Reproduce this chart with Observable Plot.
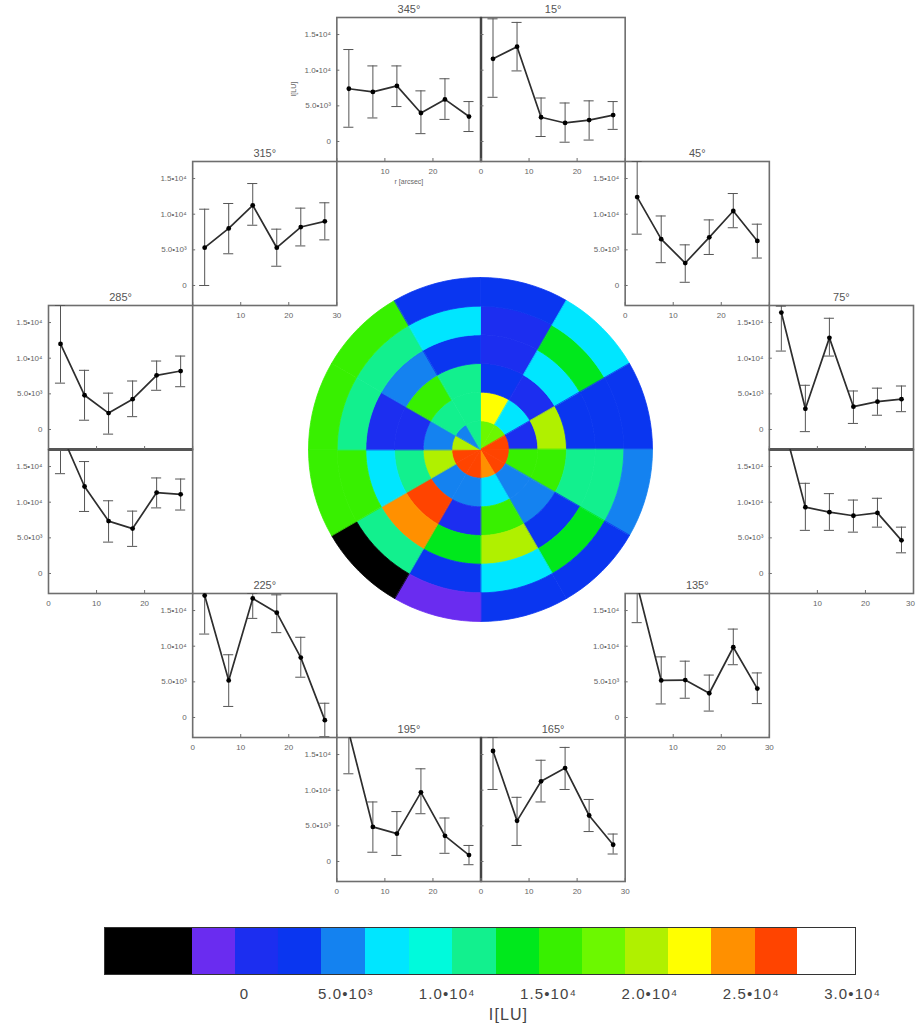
<!DOCTYPE html>
<html><head><meta charset="utf-8">
<script src="https://cdn.jsdelivr.net/npm/d3@7"></script>
<script src="https://cdn.jsdelivr.net/npm/@observablehq/plot@0.6"></script>
<style>
html,body{margin:0;padding:0;background:#fff;overflow:hidden}
#page{position:relative;width:916px;height:1030px;font-family:"Liberation Sans",sans-serif}
#page svg{position:absolute;display:block;background:transparent}
#page svg.barplot text{letter-spacing:1.1px}
</style></head><body><div id="page"></div>
<script>
// Panel layout
const angles = [345,15,315,45,285,75,255,105,225,135,195,165];
const cols   = [2,3,1,4,0,5,0,5,1,4,2,3];
const rows   = [0,0,1,1,2,2,3,3,4,4,5,5];
const radii  = [2.5,7.5,12.5,17.5,22.5,27.5];
const untitled = [255,105];
// Radial profiles, in units of 10^3 LU
const means = {
  345:[7.4,6.95,7.8,4.0,5.9,3.5], 15:[11.6,13.3,3.4,2.6,3.0,3.7],
  315:[5.3,8.0,11.25,5.3,8.2,9.0], 45:[12.4,6.5,3.15,6.75,10.45,6.25],
  285:[12.0,4.8,2.3,4.25,7.6,8.2], 75:[16.4,2.9,12.85,3.2,3.9,4.25],
  255:[19.9,12.2,7.35,6.3,11.35,11.1], 105:[22.1,9.3,8.6,8.1,8.5,4.65],
  225:[17.1,5.2,16.7,14.7,8.4,-0.37], 135:[18.55,5.2,5.25,3.4,9.85,4.05],
  195:[18.1,4.85,3.9,9.7,3.6,0.9], 165:[15.5,5.7,11.25,13.1,6.45,2.35]
};
const lows = {
  345:[2.0,3.3,4.9,1.1,3.1,1.4], 15:[6.2,9.9,0.7,-0.1,0.2,1.7],
  315:[0,4.45,8.45,2.7,5.55,6.4], 45:[7.2,3.2,0.45,4.35,8.1,3.85],
  285:[6.5,1.3,-0.65,1.8,5.5,6.0], 75:[11.0,-0.3,10.3,0.85,2.0,2.5],
  255:[14.0,8.7,4.4,3.8,9.2,8.9], 105:[18,6.05,6.05,5.8,6.5,2.9],
  225:[11.7,1.55,13.9,11.9,5.65,-2.7], 135:[13.3,1.9,2.7,0.9,7.4,1.95],
  195:[12.3,1.3,0.85,6.7,1.15,-0.45], 165:[10.1,2.25,8.35,10.1,4.2,1.05]
};
const highs = {
  345:[12.9,10.6,10.6,7.1,8.8,5.6], 15:[17.2,16.7,6.1,5.4,5.7,5.6],
  315:[10.7,11.5,14.3,7.9,10.85,11.6], 45:[17.4,9.75,5.7,9.2,12.9,8.6],
  285:[17.4,8.3,5.1,6.8,9.6,10.3], 75:[17.3,6.2,15.6,5.4,5.8,6.1],
  255:[25,15.7,10.2,8.75,13.4,13.25], 105:[26,12.65,11.2,10.3,10.55,6.5],
  225:[25,8.8,17.4,17.2,11.25,2.0], 135:[25,8.5,7.9,5.95,12.4,6.25],
  195:[24,8.35,7.0,13.0,6.1,2.25], 165:[17.4,9.0,14.2,16.0,8.7,3.85]
};
const xTickLabels = {
  345:[10,20], 15:[0,10,20], 315:[10,20,30], 45:[0,10,20], 285:[], 75:[],
  255:[0,10,20], 105:[10,20], 225:[0,10,20], 135:[10,20,30], 195:[0,10,20], 165:[0,10,20,30]
};
const yTicks = [0,5000,10000,15000];
const yTickText = {0:"0",5000:"5.0•10³",10000:"1.0•10⁴",15000:"1.5•10⁴"};

// Colour bands of the colour bar: lower edges in LU and colours
const bandEdges = [-6907,-2565,-444,1677,3799,5969,8140,10261,12432,14553,16675,18796,20918,23039,25210,27282,30143];
const bandColors = ["#000000","#6a2cf0","#1c2ef0","#0a36f0","#1482f0","#00e6ff","#00fadc","#12f08e","#00e81c","#38f000","#6cf800","#b0f000","#ffff00","#ff9000","#ff4400","#ffffff"];
const barTicks = [0,5000,10000,15000,20000,25000,30000];
const barTickText = {0:"0",5000:"5.0•10³",10000:"1.0•10⁴",15000:"1.5•10⁴",20000:"2.0•10⁴",25000:"2.5•10⁴",30000:"3.0•10⁴"};

// Polar map: rows are sectors (centre angle), entries run from the inner to the outer ring, LU
const BLK=-4000,VIO=-1500,DBL=600,BLU=2700,MID=4900,CYA=7000,AQU=9200,TEA=11300,GRN=13500,GR2=15600,LIM=17700,YGR=19900,YEL=22000,ORA=24100,RED=26200;
const sectors = [15,45,75,105,135,165,195,225,255,285,315,345];
const disc = [
  [LIM,YEL,BLU,DBL,DBL,BLU],
  [LIM,CYA,DBL,CYA,GRN,CYA],
  [RED,DBL,YGR,BLU,BLU,BLU],
  [RED,GR2,GR2,TEA,TEA,MID],
  [RED,MID,MID,BLU,GRN,BLU],
  [ORA,CYA,GR2,YGR,CYA,BLU],
  [RED,MID,DBL,GRN,BLU,VIO],
  [RED,MID,RED,ORA,TEA,BLK],
  [RED,YGR,TEA,CYA,GR2,GR2],
  [YGR,MID,DBL,DBL,TEA,GR2],
  [MID,TEA,GR2,MID,TEA,GR2],
  [TEA,TEA,TEA,BLU,CYA,BLU]
];
const ringEdges = [0,5,10,15,20,25,30];

const frameInk = "#6e6e6e", labelInk = "#666";
const page = document.getElementById("page");

// ---------- profile panels ----------
const panelPos = angles.map((a,i)=>({angle:a,col:cols[i],row:rows[i]}));
const points = panelPos.flatMap(p => radii.map((r,i)=>({
  ...p, r, v:means[p.angle][i]*1000, lo:lows[p.angle][i]*1000, hi:highs[p.angle][i]*1000
})));
const xLabels = panelPos.flatMap(p => xTickLabels[p.angle].map(t=>({...p,t})));
const facet = {fx:"col",fy:"row"};
const capHalf = 1.05;
const main = Plot.plot({
  width:916, height:907, marginLeft:48, marginRight:3, marginTop:17, marginBottom:26,
  style:{background:"transparent",fontFamily:"'Liberation Sans',sans-serif"},
  fx:{domain:[0,1,2,3,4,5],padding:0,axis:null,round:false},
  fy:{domain:[0,1,2,3,4,5],padding:0,axis:null,round:false},
  x:{domain:[0,30]},
  y:{domain:[-2805,17390]},
  marks:[
    Plot.frame({stroke:frameInk,strokeWidth:1.6}),
    Plot.ruleY(panelPos.filter(p=>p.angle===285||p.angle===75),{...facet,y:()=>-2805,stroke:"#555",strokeWidth:3}),
    Plot.ruleX(panelPos.filter(p=>p.angle===345),{...facet,x:()=>30,stroke:"#444",strokeWidth:2.5}),
    Plot.ruleX(panelPos.filter(p=>p.angle===195),{...facet,x:()=>30,stroke:"#444",strokeWidth:2.5}),
    Plot.axisX({ticks:[0,10,20,30],tickSize:-3,text:null,label:null,facetAnchor:null,anchor:"bottom",stroke:frameInk}),
    Plot.axisY({ticks:yTicks,tickSize:-3,text:null,label:null,facetAnchor:null,anchor:"left",stroke:frameInk}),
    Plot.axisY({ticks:yTicks,tickSize:0,tickPadding:6,label:null,anchor:"left",tickFormat:d=>yTickText[d],fontSize:8,fill:labelInk}),
    Plot.text(xLabels,{...facet,x:"t",text:d=>String(d.t),frameAnchor:"bottom",lineAnchor:"middle",dy:10,fontSize:8,fill:labelInk}),
    Plot.text(panelPos.filter(p=>p.angle===105),{...facet,x:()=>30,text:()=>"30",frameAnchor:"bottom",lineAnchor:"middle",dy:10,dx:-3,fontSize:8,fill:labelInk}),
    Plot.text(panelPos.filter(p=>!untitled.includes(p.angle)),{...facet,text:d=>d.angle+"°",frameAnchor:"top",lineAnchor:"middle",dy:-8,fontSize:11,fill:"#555"}),
    Plot.text(panelPos.filter(p=>p.angle===345),{...facet,text:()=>"I[LU]",y:()=>6300,frameAnchor:"left",dx:-43,rotate:-90,fontSize:7,fill:labelInk}),
    Plot.text(panelPos.filter(p=>p.angle===345),{...facet,text:()=>"r [arcsec]",x:()=>15,frameAnchor:"bottom",lineAnchor:"middle",dy:20,fontSize:7,fill:labelInk}),
    Plot.ruleX(points,{...facet,x:"r",y1:"lo",y2:"hi",stroke:"#555",strokeWidth:1,clip:"frame"}),
    Plot.ruleY(points,{...facet,y:"lo",x1:d=>d.r-capHalf,x2:d=>d.r+capHalf,stroke:"#555",strokeWidth:1,clip:"frame"}),
    Plot.ruleY(points,{...facet,y:"hi",x1:d=>d.r-capHalf,x2:d=>d.r+capHalf,stroke:"#555",strokeWidth:1,clip:"frame"}),
    Plot.line(points,{...facet,x:"r",y:"v",z:"angle",stroke:"#2e2e2e",strokeWidth:1.7,clip:"frame"}),
    Plot.dot(points,{...facet,x:"r",y:"v",r:2.4,fill:"#000",clip:"frame"})
  ]
});
main.style.left="0px"; main.style.top="0px";
page.appendChild(main);

// ---------- polar map ----------
const colorScale = {type:"threshold",domain:bandEdges.slice(1,-1),range:bandColors};
const wedges = sectors.flatMap((a,s)=>disc[s].map((v,k)=>{
  const t0=a-15,t1=a+15,r0=ringEdges[k],r1=ringEdges[k+1];
  const pt=(r,t)=>[r*Math.sin(t*Math.PI/180),r*Math.cos(t*Math.PI/180)];
  const outer=d3.range(t0,t1+0.01,3).map(t=>pt(r1,t));
  const inner=d3.range(t1,t0-0.01,-3).map(t=>pt(r0,t));
  const ring=[...outer,...inner,outer[0]];
  return {type:"Feature",properties:{v},geometry:{type:"Polygon",coordinates:[ring]}};
}));
const polarSize = 348;
const polar = Plot.plot({
  width:polarSize,height:polarSize,margin:0,
  style:{background:"transparent"},
  color:colorScale,
  projection:({width,height})=>d3.geoIdentity().reflectY(true).scale(172/30).translate([width/2,height/2]),
  marks:[
    Plot.geo(wedges,{fill:d=>d.properties.v,stroke:d=>d.properties.v,strokeWidth:0.8})
  ]
});
polar.style.left=(480.3-polarSize/2)+"px"; polar.style.top=(449-polarSize/2)+"px";
polar.style.filter="blur(0.6px)";
page.appendChild(polar);

// ---------- colour bar ----------
const bands = bandColors.map((c,i)=>({lo:bandEdges[i],hi:bandEdges[i+1]}));
const bar = Plot.plot({
  className:"barplot",
  width:916,height:103,marginLeft:104,marginRight:61,marginTop:0,marginBottom:56,
  style:{background:"transparent",fontFamily:"'Liberation Sans',sans-serif"},
  color:colorScale,
  x:{domain:[bandEdges[0],bandEdges[bandEdges.length-1]]},
  y:{domain:[0,1],axis:null},
  marks:[
    Plot.rect(bands,{x1:"lo",x2:"hi",y1:()=>0,y2:()=>1,fill:d=>(d.lo+d.hi)/2}),
    Plot.frame({stroke:"#333",strokeWidth:1}),
    Plot.axisX({ticks:barTicks,tickSize:0,tickPadding:14,label:null,tickFormat:d=>barTickText[d],fontSize:15,fill:"#444"}),
    Plot.text(["I[LU]"],{x:()=>13024,frameAnchor:"bottom",lineAnchor:"middle",dy:40,fontSize:16,fill:"#444"})
  ]
});
bar.classList.add("barplot");
bar.style.left="0px"; bar.style.top="927px";
page.appendChild(bar);
</script></body></html>
